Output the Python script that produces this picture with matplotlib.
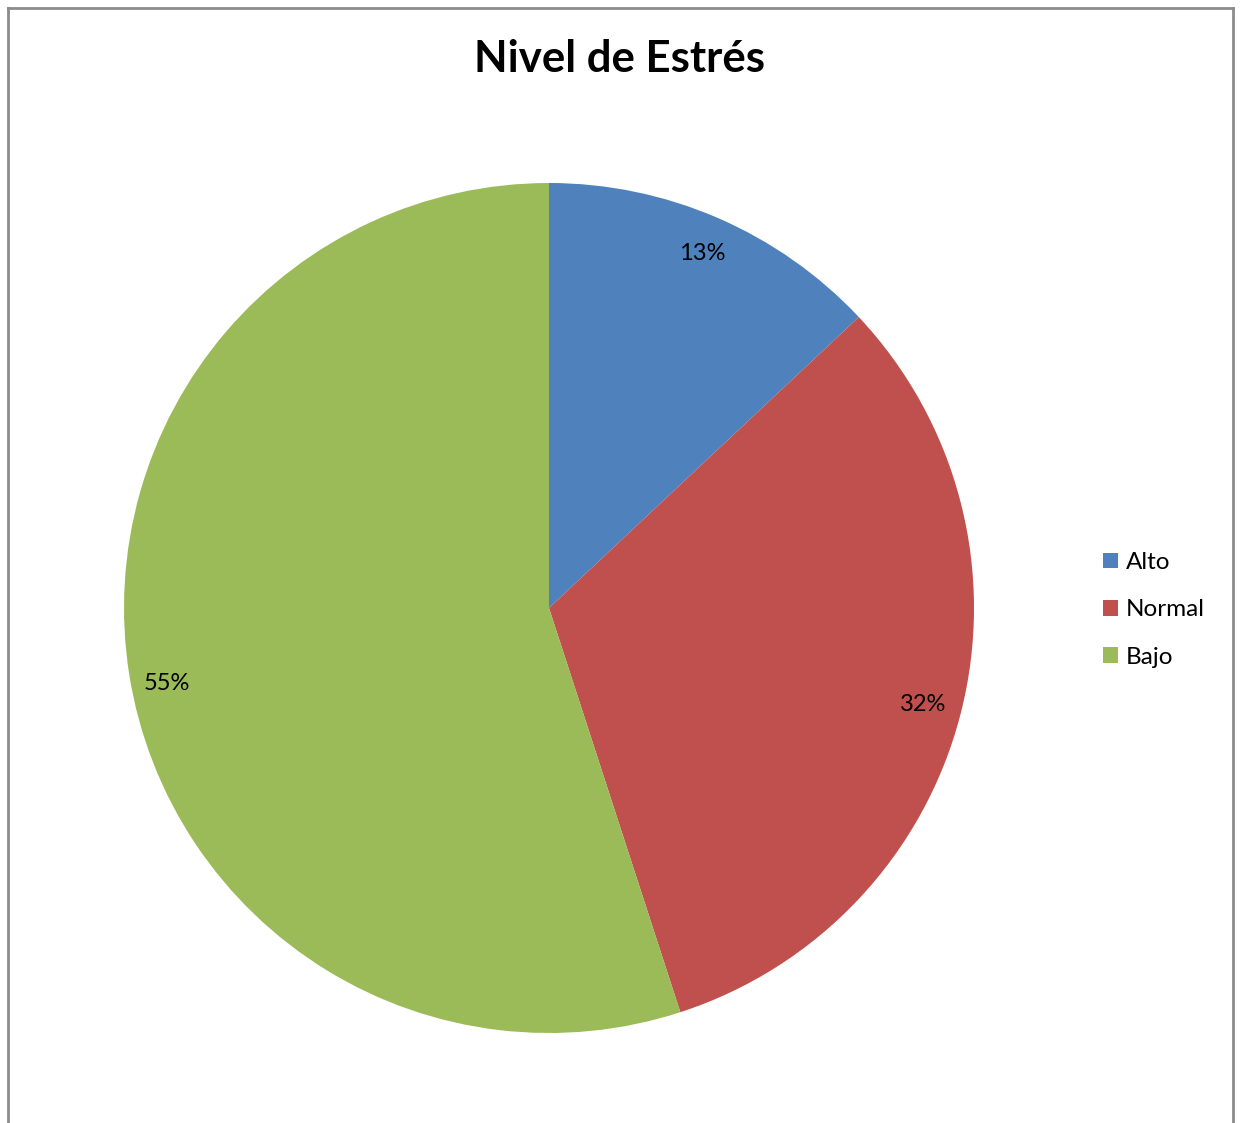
import matplotlib
matplotlib.use("Agg")
import matplotlib.pyplot as plt
from matplotlib.lines import Line2D
from matplotlib.patches import Patch

plt.rcParams['font.family'] = ['Lato', 'DejaVu Sans']

labels = ['Alto', 'Normal', 'Bajo']
values = [13, 32, 55]
colors = ['#4F81BD', '#C0504D', '#9BBB59']

W, H = 1240, 1123
fig = plt.figure(figsize=(W / 100, H / 100), dpi=100)

# pie centre (549, 608) px, radius 425 px
ax = fig.add_axes([(549 - 425) / W, (H - 608 - 425) / H, 850 / W, 850 / H])
wedges, texts, autotexts = ax.pie(values, colors=colors, startangle=90, counterclock=False,
                                  autopct='%1.0f%%', pctdistance=0.91,
                                  wedgeprops=dict(linewidth=0),
                                  textprops=dict(fontsize=17, color='black'))
ax.set_aspect('equal')
ax.set_xlim(-1, 1)
ax.set_ylim(-1, 1)
# la etiqueta del 55% queda un poco mas abajo en el original
x, y = autotexts[2].get_position()
autotexts[2].set_position((x, y - 0.035))

fig.text(620 / W, 1 - 59 / H, 'Nivel de Estrés', ha='center', va='center',
         fontsize=31.5, fontweight='bold')

handles = [Patch(facecolor=c, edgecolor='none', label=l) for c, l in zip(colors, labels)]
fig.legend(handles=handles, loc='center left', bbox_to_anchor=(1091 / W, 1 - 610 / H),
           frameon=False, fontsize=17.5, handlelength=0.6, handleheight=0.6,
           handletextpad=0.35, labelspacing=1.08, borderpad=0)

# marco gris del grafico (sin linea inferior)
gray = '#8c8c8c'
x0, x1, y0 = 7.5 / W, 1232.5 / W, 1 - 7.5 / H
fig.add_artist(Line2D([x0, x0], [0, y0], color=gray, lw=2))
fig.add_artist(Line2D([x0, x1], [y0, y0], color=gray, lw=2))
fig.add_artist(Line2D([x1, x1], [0, y0], color=gray, lw=2))

fig.savefig('out.png', dpi=100, facecolor='white')
